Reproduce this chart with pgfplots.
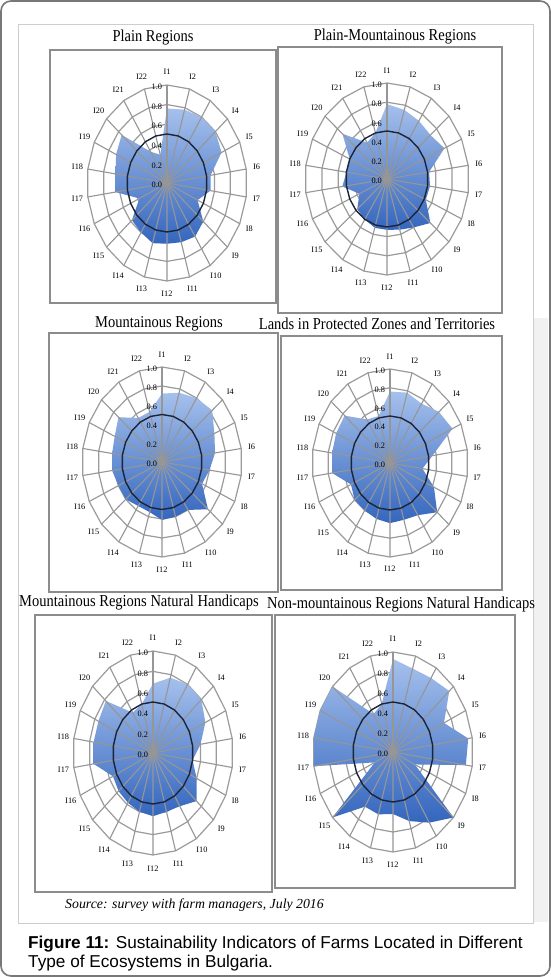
\documentclass[border=0pt]{standalone}
\usepackage{fontspec}
\setmainfont{Liberation Serif}
\newfontfamily\capfont{Liberation Sans}
\usepackage{graphicx}
\usepackage{pgfplots}
\usepackage{pgfplotstable}
\pgfplotsset{compat=1.18}

\definecolor{gridc}{RGB}{155,155,155}
\definecolor{spokec}{RGB}{150,150,150}
\definecolor{boxc}{RGB}{140,140,140}
\definecolor{refc}{RGB}{28,36,56}
\definecolor{filltop}{RGB}{165,192,236}
\definecolor{fillbot}{RGB}{52,102,190}
\definecolor{framec}{RGB}{120,120,120}
\definecolor{panelc}{RGB}{205,205,205}
\definecolor{bandc}{RGB}{241,241,241}

% columns: indicator, angle (deg, I1 at top, clockwise), six ecosystems, 0.5 reference ring
\pgfplotstableread{
ind angle plain plmount mount protect mountnh nonmount ref
1 90 0.76 0.78 0.72 0.76 0.68 0.93 0.5
2 73.6364 0.78 0.75 0.76 0.78 0.77 0.87 0.5
3 57.2727 0.80 0.72 0.80 0.75 0.80 0.88 0.5
4 40.9091 0.80 0.70 0.83 0.83 0.80 0.93 0.5
5 24.5455 0.75 0.77 0.72 0.88 0.72 0.70 0.5
6 8.1818 0.55 0.52 0.67 0.55 0.60 0.95 0.5
7 -8.1818 0.55 0.53 0.60 0.42 0.50 0.92 0.5
8 -24.5455 0.42 0.52 0.55 0.62 0.60 0.30 0.5
9 -40.9091 0.60 0.70 0.76 0.80 0.72 1.00 0.5
10 -57.2727 0.65 0.60 0.60 0.66 0.62 0.84 0.5
11 -73.6364 0.63 0.55 0.60 0.63 0.60 0.72 0.5
12 -90 0.62 0.53 0.61 0.64 0.62 0.62 0.5
13 -106.3636 0.64 0.53 0.55 0.62 0.60 0.65 0.5
14 -122.7273 0.60 0.50 0.55 0.60 0.58 0.65 0.5
15 -139.0909 0.58 0.48 0.60 0.60 0.57 1.00 0.5
16 -155.4545 0.38 0.37 0.60 0.55 0.55 0.25 0.5
17 -171.8182 0.65 0.55 0.63 0.75 0.75 1.00 0.5
18 -188.1818 0.65 0.50 0.63 0.75 0.75 1.00 0.5
19 -204.5455 0.70 0.50 0.65 0.76 0.75 1.00 0.5
20 -220.9091 0.75 0.72 0.72 0.77 0.78 1.00 0.5
21 -237.2727 0.38 0.45 0.55 0.55 0.47 0.45 0.5
22 -253.6364 0.30 0.50 0.55 0.52 0.50 0.50 0.5
}\radardata

\pgfplotsset{
  radar/.style={scale only axis, hide axis, clip=false, anchor=center,
    xmin=-1, xmax=1, ymin=-1, ymax=1},
  radarfill/.style={draw=none, top color=filltop, bottom color=fillbot, data cs=polar},
  refline/.style={refc, line width=1.4bp, no marks, data cs=polar},
}
\tikzset{lab/.style={font=\fontsize{8.3bp}{9bp}\selectfont, inner sep=0pt, text=black}}

\newcommand{\radarrings}{%
  \pgfplotsinvokeforeach{0.2,0.4,0.6,0.8,1.0}{%
    \draw[gridc, line width=1.2bp] plot[samples at={0,1,2,3,4,5,6,7,8,9,10,11,12,13,14,15,16,17,18,19,20,21,22}, variable=\k]
      (axis cs:{##1*cos(90-\k*360/22)},{##1*sin(90-\k*360/22)}) -- cycle;}}
\newcommand{\radarspokes}{%
  \pgfplotsinvokeforeach{0,1,2,3,4,5,6,7,8,9,10,11,12,13,14,15,16,17,18,19,20,21}{%
    \draw[spokec, line width=1.1bp] (axis cs:0,0) -- (axis cs:{cos(90-##1*360/22)},{sin(90-##1*360/22)});}}
\newcommand{\radarlabels}{%
  \pgfplotsinvokeforeach{1,2,3,4,5,6,7,8,9,10,11,12,13,14,15,16,17,18,19,20,21,22}{%
    \node[lab] at (axis cs:{1.13*cos(90-(##1-1)*360/22)},{1.13*sin(90-(##1-1)*360/22)}) {I##1};}%
  \pgfplotsinvokeforeach{0.0,0.2,0.4,0.6,0.8,1.0}{%
    \node[lab, anchor=east] at (axis cs:-0.06,{##1-0.02}) {##1};}}
\newcommand{\radar}[1]{%
  \radarrings
  \addplot[radarfill] table[x=angle, y=#1] {\radardata} -- cycle;
  \radarspokes
  \addplot[refline] table[x=angle, y=ref] {\radardata} -- cycle;
  \radarlabels}

\begin{document}
\begin{tikzpicture}
\useasboundingbox (0,0) rectangle (551bp,977bp);
\fill[white] (0,0) rectangle (551bp,977bp);
% frame
\fill[bandc] (534bp,55bp) rectangle (548bp,659bp);
\draw[panelc, line width=0.8bp] (18bp,54bp) rectangle (533bp,953bp);
\draw[framec, line width=1.6bp, rounded corners=10bp] (1bp,1bp) rectangle (550bp,976bp);

% chart boxes
\draw[boxc, line width=1.3bp] (50bp,674bp) rectangle (276bp,927bp);
\draw[boxc, line width=1.3bp] (278bp,664bp) rectangle (502bp,930bp);
\draw[boxc, line width=1.3bp] (49bp,385bp) rectangle (278bp,644bp);
\draw[boxc, line width=1.3bp] (281bp,387bp) rectangle (502bp,641bp);
\draw[boxc, line width=1.3bp] (35bp,85bp) rectangle (272bp,362bp);
\draw[boxc, line width=1.3bp] (275bp,89bp) rectangle (515bp,362bp);

% titles
\begin{scope}[every node/.style={font=\fontsize{14.5bp}{17bp}\selectfont, inner sep=0pt}]
\node at (153bp,939bp) {\scalebox{1}[1.15]{Plain Regions}};
\node at (395bp,940bp) {\scalebox{1}[1.15]{Plain-Mountainous Regions}};
\node at (159bp,653bp) {\scalebox{1}[1.15]{Mountainous Regions}};
\node at (377bp,653bp) {\scalebox{1}[1.15]{Lands in Protected Zones and Territories}};
\node at (139bp,374bp) {\scalebox{1}[1.15]{Mountainous Regions Natural Handicaps}};
\node at (401bp,372bp) {\scalebox{1}[1.15]{Non-mountainous Regions Natural Handicaps}};
\end{scope}

\begin{axis}[radar, at={(167bp,794bp)}, width=160bp, height=196bp]
\radar{plain}
\end{axis}
\begin{axis}[radar, at={(387bp,798bp)}, width=164bp, height=192bp]
\radar{plmount}
\end{axis}
\begin{axis}[radar, at={(162bp,515bp)}, width=160bp, height=190bp]
\radar{mount}
\end{axis}
\begin{axis}[radar, at={(390bp,514bp)}, width=156bp, height=188bp]
\radar{protect}
\end{axis}
\begin{axis}[radar, at={(153bp,224bp)}, width=160bp, height=204bp]
\radar{mountnh}
\end{axis}
\begin{axis}[radar, at={(393bp,225bp)}, width=160bp, height=200bp]
\radar{nonmount}
\end{axis}

% source and caption
\node[anchor=base west, inner sep=0pt, font=\fontsize{13.8bp}{16bp}\selectfont\itshape] at (65bp,68bp) {Source: survey with farm managers, July 2016};
\node[anchor=base west, inner sep=0pt, font=\capfont\fontsize{17.2bp}{20bp}\selectfont] at (28bp,29bp) {\textbf{Figure 11:} Sustainability Indicators of Farms Located in Different};
\node[anchor=base west, inner sep=0pt, font=\capfont\fontsize{17.2bp}{20bp}\selectfont] at (28bp,9.3bp) {Type of Ecosystems in Bulgaria.};
\end{tikzpicture}
\end{document}
